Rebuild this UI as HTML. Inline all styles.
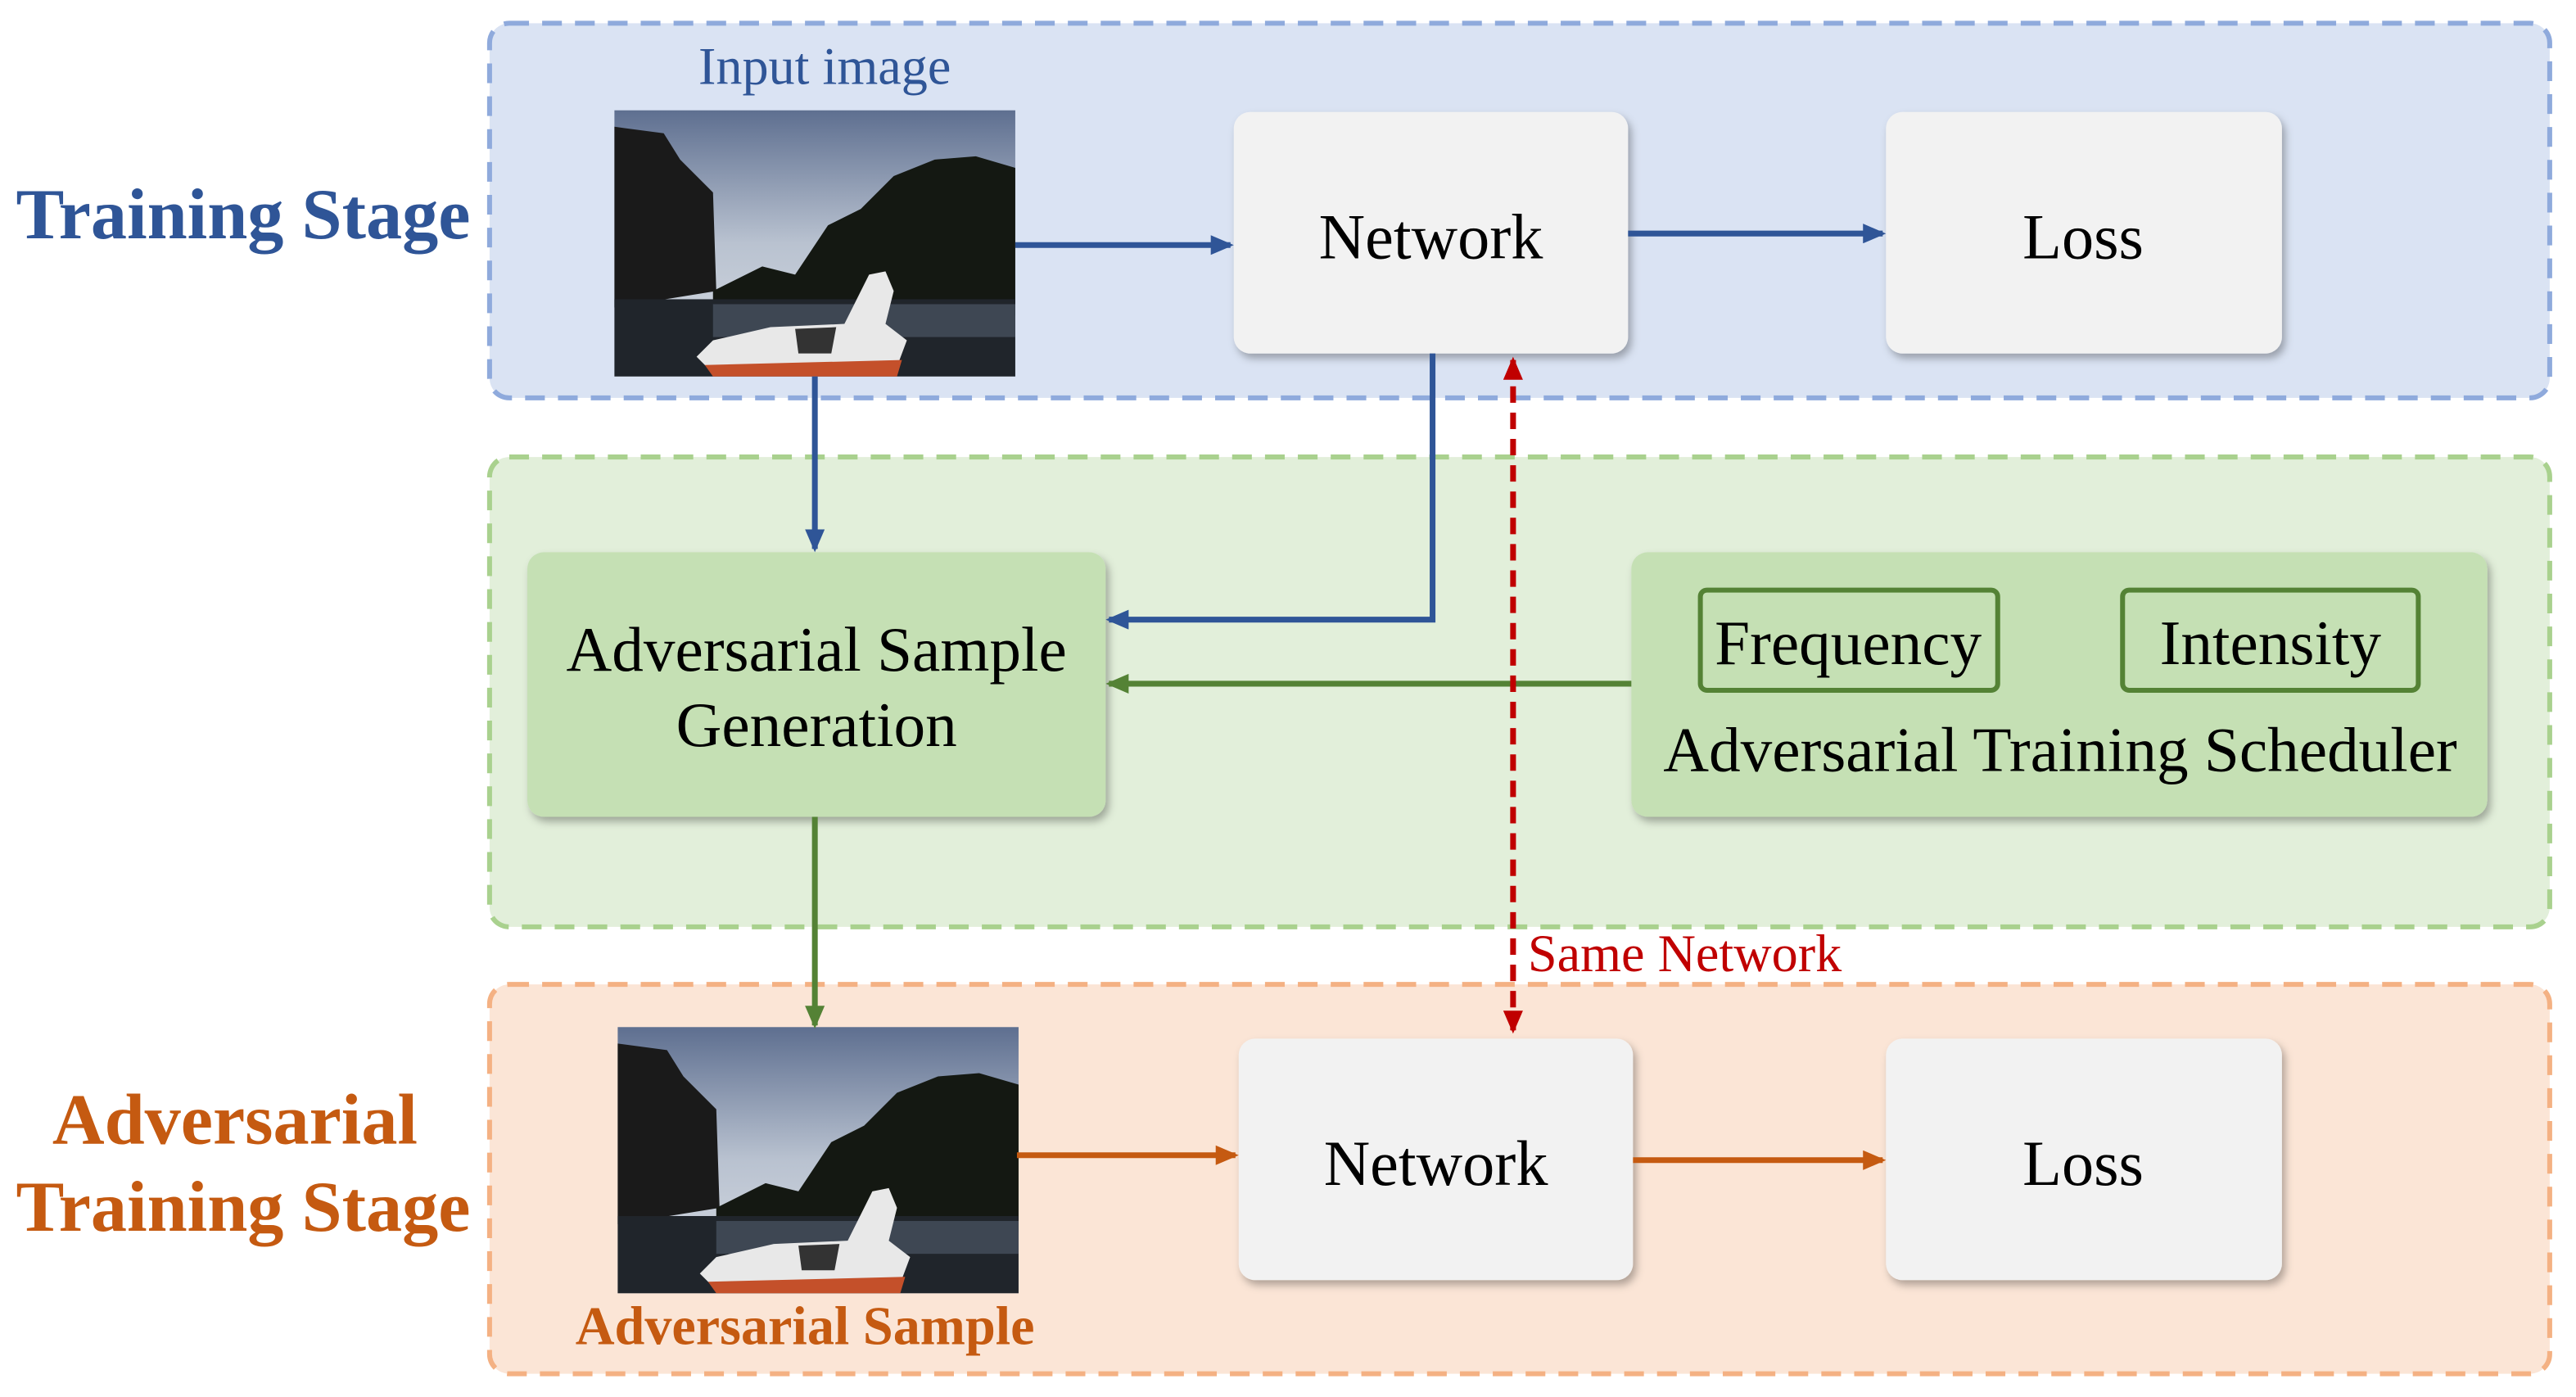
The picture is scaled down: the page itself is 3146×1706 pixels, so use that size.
<!DOCTYPE html>
<html><head><meta charset="utf-8"><style>
html,body{margin:0;padding:0;background:#fff;}
svg{display:block;}
text{font-family:"Liberation Serif",serif;}
</style></head><body>
<svg width="3146" height="1706" viewBox="0 0 1568 850" xmlns="http://www.w3.org/2000/svg">
<defs>
<filter id="sh" x="-10%" y="-10%" width="130%" height="130%"><feDropShadow dx="2" dy="3" stdDeviation="2.5" flood-color="#000" flood-opacity="0.3"/></filter>
<marker id="ab" markerWidth="14" markerHeight="12" refX="12" refY="6" orient="auto" markerUnits="userSpaceOnUse"><path d="M0,0 L14,6 L0,12 z" fill="#2f5597"/></marker>
<marker id="ag" markerWidth="14" markerHeight="12" refX="12" refY="6" orient="auto" markerUnits="userSpaceOnUse"><path d="M0,0 L14,6 L0,12 z" fill="#548235"/></marker>
<marker id="ao" markerWidth="14" markerHeight="12" refX="12" refY="6" orient="auto" markerUnits="userSpaceOnUse"><path d="M0,0 L14,6 L0,12 z" fill="#c55a11"/></marker>
<marker id="ar" markerWidth="14" markerHeight="12" refX="12" refY="6" orient="auto-start-reverse" markerUnits="userSpaceOnUse"><path d="M0,0 L14,6 L0,12 z" fill="#c00000"/></marker>
<linearGradient id="sky" x1="0" y1="0" x2="0" y2="1"><stop offset="0" stop-color="#5e6f90"/><stop offset="0.5" stop-color="#b9c2d0"/><stop offset="1" stop-color="#d8dde4"/></linearGradient>
<g id="photo">
<rect x="0" y="0" width="244" height="162" fill="url(#sky)"/>
<path d="M0,10 L30,14 L40,30 L60,50 L62,110 L0,120 z" fill="#1a1a1a"/>
<path d="M60,110 L90,95 L110,100 L130,70 L150,60 L170,40 L195,30 L220,28 L244,35 L244,125 L60,125 z" fill="#141812"/>
<rect x="0" y="115" width="244" height="47" fill="#20252b"/>
<rect x="60" y="118" width="184" height="20" fill="#4b5665" opacity="0.7"/>
<path d="M50,150 L60,140 L95,132 L140,130 L150,110 L155,100 L165,98 L170,110 L165,130 L178,140 L172,156 L60,160 z" fill="#e8e8e8"/>
<path d="M55,155 L175,152 L172,162 L60,162 z" fill="#c4502a"/>
<path d="M110,133 L135,132 L132,148 L112,148 z" fill="#333"/>
</g>
</defs>

<rect x="298" y="14" width="1254" height="228" rx="12" fill="#dae3f3" stroke="#8faadc" stroke-width="3" stroke-dasharray="12,8"/>
<rect x="298" y="278" width="1254" height="286" rx="12" fill="#e2efda" stroke="#a9d18e" stroke-width="3" stroke-dasharray="12,8"/>
<rect x="298" y="599" width="1254" height="237" rx="12" fill="#fbe5d6" stroke="#f4b183" stroke-width="3" stroke-dasharray="12,8"/>

<text x="148" y="145" font-size="44" font-weight="bold" fill="#2f5597" text-anchor="middle">Training Stage</text>
<text x="143" y="696" font-size="44" font-weight="bold" fill="#c55a11" text-anchor="middle">Adversarial</text>
<text x="148" y="749" font-size="44" font-weight="bold" fill="#c55a11" text-anchor="middle">Training Stage</text>

<text x="502" y="51" font-size="32" fill="#2f5597" text-anchor="middle">Input image</text>
<use href="#photo" x="374" y="67"/>
<use href="#photo" x="376" y="625"/>
<text x="490" y="818" font-size="33" font-weight="bold" fill="#c55a11" text-anchor="middle">Adversarial Sample</text>

<rect x="751" y="68" width="240" height="147" rx="10" fill="#f2f2f2" filter="url(#sh)"/>
<text x="871" y="157" font-size="39" text-anchor="middle">Network</text>
<rect x="1148" y="68" width="241" height="147" rx="10" fill="#f2f2f2" filter="url(#sh)"/>
<text x="1268" y="157" font-size="39" text-anchor="middle">Loss</text>
<rect x="754" y="632" width="240" height="147" rx="10" fill="#f2f2f2" filter="url(#sh)"/>
<text x="874" y="721" font-size="39" text-anchor="middle">Network</text>
<rect x="1148" y="632" width="241" height="147" rx="10" fill="#f2f2f2" filter="url(#sh)"/>
<text x="1268" y="721" font-size="39" text-anchor="middle">Loss</text>

<rect x="321" y="336" width="352" height="161" rx="10" fill="#c5e0b4" filter="url(#sh)"/>
<text x="497" y="408" font-size="38.5" text-anchor="middle">Adversarial Sample</text>
<text x="497" y="454" font-size="38.5" text-anchor="middle">Generation</text>

<rect x="993" y="336" width="521" height="161" rx="10" fill="#c5e0b4" filter="url(#sh)"/>
<rect x="1035" y="359" width="181" height="61" rx="4" fill="none" stroke="#548235" stroke-width="3"/>
<text x="1125" y="404" font-size="38.5" text-anchor="middle">Frequency</text>
<rect x="1292" y="359" width="180" height="61" rx="4" fill="none" stroke="#548235" stroke-width="3"/>
<text x="1382" y="404" font-size="38.5" text-anchor="middle">Intensity</text>
<text x="1254" y="469" font-size="38.5" text-anchor="middle">Adversarial Training Scheduler</text>

<g fill="none" stroke-width="3.5">
<line x1="618" y1="149" x2="749" y2="149" stroke="#2f5597" marker-end="url(#ab)"/>
<line x1="991" y1="142" x2="1146" y2="142" stroke="#2f5597" marker-end="url(#ab)"/>
<line x1="496" y1="229" x2="496" y2="334" stroke="#2f5597" marker-end="url(#ab)"/>
<polyline points="872,215 872,377 675,377" stroke="#2f5597" marker-end="url(#ab)"/>
<line x1="993" y1="416" x2="675" y2="416" stroke="#548235" marker-end="url(#ag)"/>
<line x1="496" y1="497" x2="496" y2="624" stroke="#548235" marker-end="url(#ag)"/>
<line x1="619" y1="703" x2="752" y2="703" stroke="#c55a11" marker-end="url(#ao)"/>
<line x1="994" y1="706" x2="1146" y2="706" stroke="#c55a11" marker-end="url(#ao)"/>
<line x1="921" y1="219" x2="921" y2="627" stroke="#c00000" stroke-dasharray="10,6" marker-start="url(#ar)" marker-end="url(#ar)"/>
</g>
<text x="930" y="591" font-size="32" fill="#c00000">Same Network</text>
</svg>
</body></html>
